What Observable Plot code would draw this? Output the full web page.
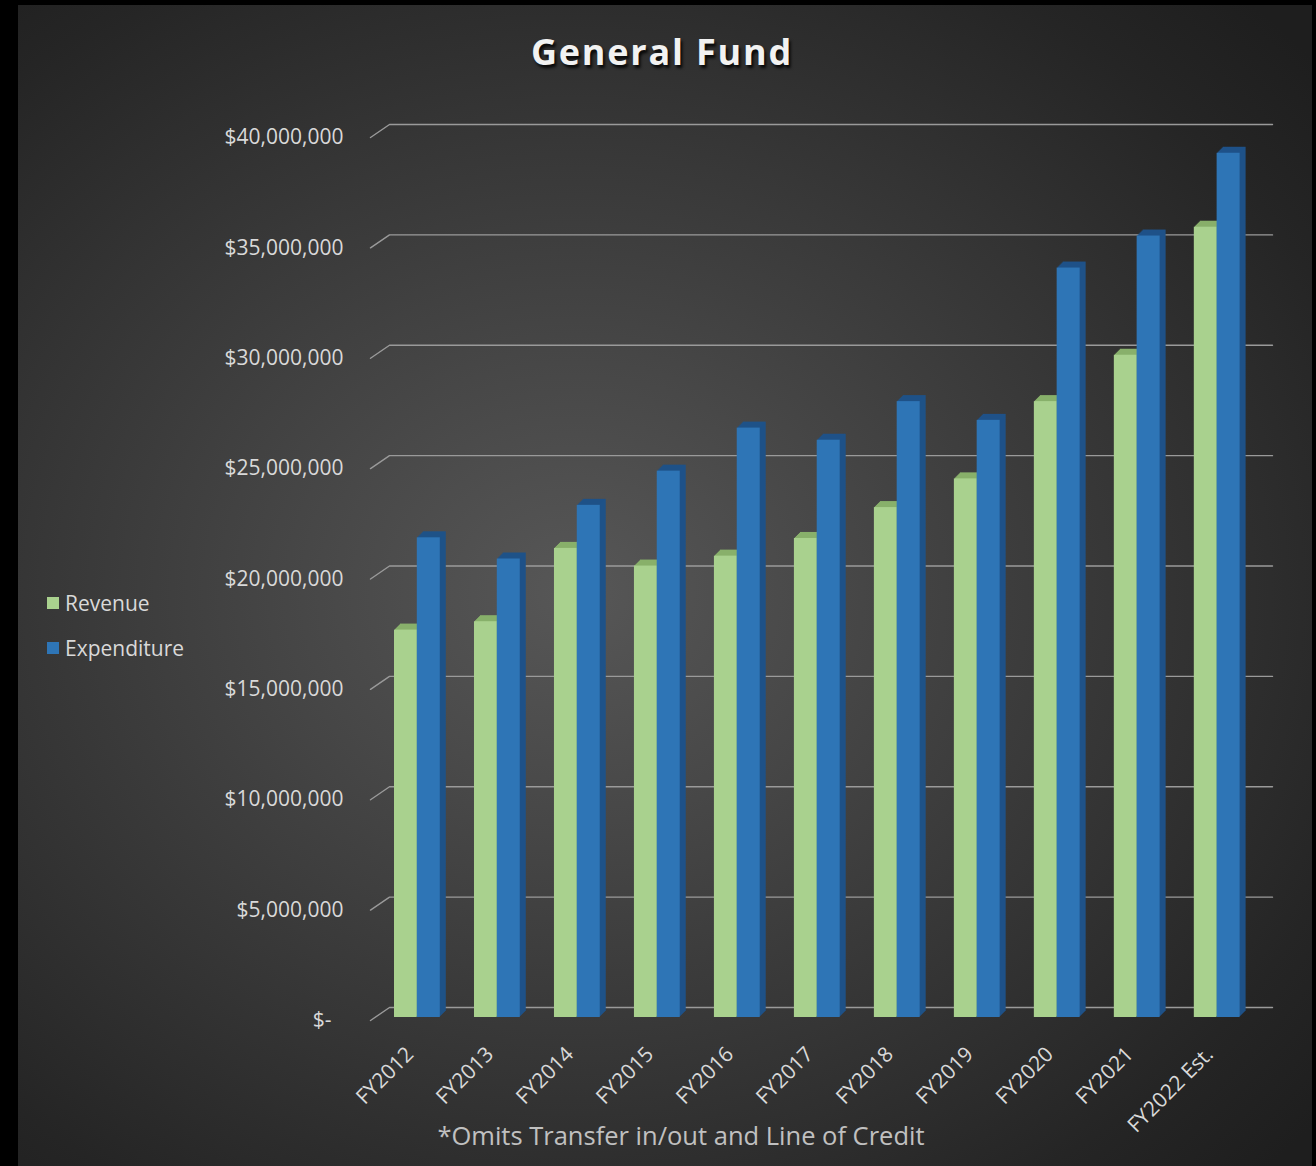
<!DOCTYPE html>
<html>
<head>
<meta charset="utf-8">
<script src="https://cdn.jsdelivr.net/npm/d3@7"></script>
<script src="https://cdn.jsdelivr.net/npm/@observablehq/plot@0.6"></script>
<style>
  html, body { margin: 0; padding: 0; background: #000; }
  #wrap { position: relative; width: 1316px; height: 1166px; overflow: hidden; background: #000; font-family: "Open Sans", sans-serif; }
  #panel { position: absolute; left: 18px; top: 5px; width: 1294px; height: 1175px;
    background: radial-gradient(ellipse 75% 70% at 43% 50%, #575757 0%, #474747 28%, #343434 60%, #252525 85%, #1e1e1e 100%); }
  #title { position: absolute; left: 0; width: 1324px; top: 27px; text-align: center; font-size: 36px; font-weight: 700;
    letter-spacing: 1.8px; color: #f2f2f2; text-shadow: 2px 3px 3px rgba(0,0,0,0.85); }
  #chart { position: absolute; left: 0; top: 0; }
  #legend { position: absolute; left: 47px; top: 588px; color: #d9d9d9; font-size: 21px; }
  .li { display: flex; align-items: center; height: 30px; margin-bottom: 15px; }
  .sw { width: 12px; height: 12px; margin-right: 6px; }
  #caption { position: absolute; left: 0; width: 1362px; top: 1118px; text-align: center; font-size: 25.5px; color: #c0c0c0; }
</style>
</head>
<body>
<div id="wrap">
  <div id="panel"></div>
  <div id="title">General Fund</div>
  <div id="chart"></div>
  <div id="legend"></div>
  <div id="caption">*Omits Transfer in/out and Line of Credit</div>
</div>
<script>
// ---- data ----
const years = ["FY2012", "FY2013", "FY2014", "FY2015", "FY2016", "FY2017", "FY2018", "FY2019", "FY2020", "FY2021", "FY2022 Est."];
const revenue = [17550000, 17930000, 21250000, 20450000, 20900000, 21700000, 23100000, 24400000, 27900000, 30000000, 35800000];
const expenditure = [21730000, 20770000, 23200000, 24750000, 26700000, 26150000, 27900000, 27050000, 33950000, 35400000, 39150000];
const yTicks = [0, 5000000, 10000000, 15000000, 20000000, 25000000, 30000000, 35000000, 40000000];
const seriesNames = ["Revenue", "Expenditure"];
const seriesColors = ["#a9d18e", "#2e75b6"];
const depthColors = ["#88b06b", "#1f5288"];

// ---- layout ----
const W = 1316, H = 1166;
const mL = 389, mR = 44, mT = 137, mB = 146;
const xMax = 11.04;           // group units across the back wall
const wallDepthPx = 13;       // perspective shift of the back wall
const barLiftPx = 3;          // bars sit slightly behind the front plane
const dollarsPerPx = 40000000 / (H - mT - mB);
const wallShift = wallDepthPx * dollarsPerPx;
const diagX = -19 / 80;

const rows = years.map((year, i) => ({year, i, revenue: revenue[i], expenditure: expenditure[i]}));

const gridPts = yTicks.flatMap(t => [
  {t, x: diagX, y: t},
  {t, x: 0, y: t + wallShift},
  {t, x: xMax, y: t + wallShift}
]);

const revX1 = d => d.i + 0.0625, revX2 = d => d.i + 0.3475;
const expX1 = d => d.i + 0.3475, expX2 = d => d.i + 0.635;
const depthSteps = [6, 5, 4, 3, 2, 1];

function barMarks(x1, x2, key, front, back) {
  const ms = depthSteps.map(k => Plot.rectY(rows, {x1, x2, y1: 0, y2: key, fill: back, dx: k, dy: -barLiftPx - k}));
  ms.push(Plot.rectY(rows, {x1, x2, y1: 0, y2: key, fill: front, dy: -barLiftPx}));
  return ms;
}

const fmt = d3.format(",");
const chart = Plot.plot({
  width: W, height: H,
  marginLeft: mL, marginRight: mR, marginTop: mT, marginBottom: mB,
  style: {background: "transparent", color: "#d9d9d9", fontFamily: "'Open Sans', sans-serif", fontSize: "21px", overflow: "visible"},
  x: {domain: [0, xMax], axis: null},
  y: {domain: [0, 40000000], axis: null},
  marks: [
    Plot.line(gridPts, {x: "x", y: "y", z: "t", stroke: "#9a9a9a", strokeWidth: 1.4}),
    Plot.axisY(yTicks, {tickSize: 0, tickPadding: 46, fontSize: 21, fill: "#d9d9d9",
      tickFormat: d => d === 0 ? "$-\u2007" : "$" + fmt(d)}),
    ...barMarks(revX1, revX2, "revenue", seriesColors[0], depthColors[0]),
    ...barMarks(expX1, expX2, "expenditure", seriesColors[1], depthColors[1]),
    Plot.text(rows, {x: d => d.i + 0.39, frameAnchor: "bottom", text: "year", rotate: -45, textAnchor: "end",
      dx: -6, dy: 35, fontSize: 21, fill: "#d9d9d9"})
  ]
});
document.getElementById("chart").appendChild(chart);

const legend = document.getElementById("legend");
seriesNames.forEach((name, k) => {
  const li = document.createElement("div");
  li.className = "li";
  li.innerHTML = `<div class="sw" style="background:${seriesColors[k]}"></div><span>${name}</span>`;
  legend.appendChild(li);
});
</script>
</body>
</html>
